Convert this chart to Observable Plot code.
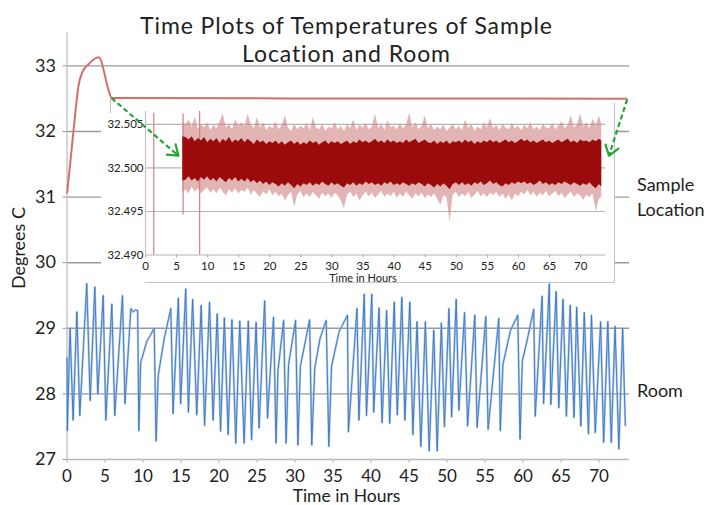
<!DOCTYPE html>
<html><head><meta charset="utf-8">
<script src="https://cdn.jsdelivr.net/npm/d3@7"></script>
<script src="https://cdn.jsdelivr.net/npm/@observablehq/plot@0.6"></script>
<style>
body{margin:0;background:#fff;}
#wrap{position:relative;width:715px;height:505px;background:#fff;overflow:hidden;font-family:Lato,"Open Sans",sans-serif;color:#222;}
.abs{position:absolute;}
.lbl{position:absolute;font-size:18px;line-height:25px;white-space:nowrap;}
</style></head>
<body>
<div id="wrap">
  <div id="main" class="abs" style="left:0;top:0"></div>
  <div class="abs" style="left:101px;top:103px;width:514px;height:180px;background:#fff;border-right:1px solid #c4c4c4;box-sizing:border-box"></div>
  <div class="abs" style="left:145px;top:282px;width:470px;height:0;border-top:1px solid #c4c4c4"></div>
  <div class="abs" style="left:110px;top:99px;width:0;height:14px;border-left:1px solid #bdbdbd"></div>
  <div id="inset" class="abs" style="left:101px;top:103px"></div>
  <div id="over" class="abs" style="left:0;top:0"></div>
  <div class="abs" style="left:0;top:12.3px;width:693px;text-align:center;font-size:23px;letter-spacing:0.9px;line-height:27.7px">Time Plots of Temperatures of Sample<br>Location and Room</div>
  <div class="abs" style="left:0;top:487px;width:693px;text-align:center;font-size:17.5px;line-height:17px">Time in Hours</div>
  <div class="abs" style="left:18px;top:248px;transform:translate(-50%,-50%) rotate(-90deg);font-size:18px;white-space:nowrap">Degrees C</div>
  <div class="lbl" style="left:637px;top:172px">Sample<br>Location</div>
  <div class="lbl" style="left:637px;top:378px">Room</div>
  <div class="abs" style="left:0;top:272px;width:726px;text-align:center;font-size:11px;line-height:11px">Time in Hours</div>
</div>
<script>
// ---- Main chart data ----
const mainYTicks = [27, 28, 29, 30, 31, 32, 33];
const mainXTicks = [0, 5, 10, 15, 20, 25, 30, 35, 40, 45, 50, 55, 60, 65, 70];

// Sample location temperature (red)
const sampleHours = [0.03, 0.8, 1.55, 2.0, 2.87, 4.18, 5.5, 5.86, 73.6];
const sampleTemps = [31.07, 31.95, 32.72, 32.9, 33.03, 33.13, 32.62, 32.51, 32.5];

// Room temperature (blue) – peaks, troughs and knees
const roomHours = [0.0, 0.05, 0.4, 0.8, 1.3, 1.68, 2.6, 3.05, 3.66, 4.05, 4.76, 5.11, 5.9, 6.28, 7.3, 7.63,
  8.4, 8.7, 9.0, 9.3, 9.45, 9.7, 10.5, 11.47, 11.72, 12.0, 12.8, 13.66, 13.95, 14.65, 14.95, 15.62, 15.97,
  16.53, 17.07, 17.65, 18.1, 18.75, 19.22, 19.76, 20.2, 20.7, 21.2, 21.7, 22.2, 22.73, 23.3, 23.85, 24.28,
  24.88, 25.27, 26.0, 26.38, 27.17, 27.5, 27.75, 28.5, 28.82, 29.15, 30.07, 30.38, 30.7, 31.92, 32.2, 32.6,
  33.3, 34.1, 34.45, 34.8, 35.8, 36.9, 37.02, 38.15, 38.4, 39.1, 39.4, 40.1, 40.35, 41.05, 41.45, 42.05,
  42.45, 43.05, 43.45, 44.05, 44.45, 45.1, 45.5, 46.05, 46.55, 47.15, 47.65, 48.25, 48.7, 49.25, 49.65,
  50.25, 50.6, 51.2, 51.55, 52.3, 52.7, 53.65, 53.95, 55.1, 55.4, 56.8, 57.0, 57.35, 58.35, 59.3, 59.6,
  59.9, 60.5, 61.4, 61.6, 62.5, 62.7, 63.45, 63.65, 64.35, 64.7, 65.25, 65.7, 66.2, 66.7, 67.05, 67.6,
  68.05, 68.6, 69.0, 69.5, 70.2, 70.6, 71.15, 71.6, 72.1, 72.6, 73.1, 73.45];
const roomTemps = [28.55, 27.44, 29.0, 27.6, 29.25, 27.67, 29.68, 27.9, 29.63, 28.0, 29.5, 27.6, 29.37, 27.67, 29.5, 27.85,
  29.3, 29.25, 29.28, 29.27, 27.44, 28.48, 28.8, 29.0, 27.28, 28.28, 28.85, 29.3, 27.7, 29.46, 27.85, 29.6, 27.72,
  29.44, 27.68, 29.35, 27.52, 29.4, 27.6, 29.22, 27.43, 29.16, 27.38, 29.13, 27.25, 29.11, 27.25, 29.11, 27.3,
  29.09, 27.48, 29.42, 27.63, 29.17, 27.25, 28.35, 29.12, 27.25, 28.45, 29.12, 27.22, 28.42, 29.13, 27.22, 28.4,
  28.85, 29.12, 27.2, 28.42, 28.95, 29.2, 27.42, 29.3, 27.6, 29.52, 27.67, 29.52, 27.72, 29.31, 27.56, 29.27,
  27.55, 29.4, 27.68, 29.47, 27.6, 29.4, 27.38, 29.1, 27.2, 29.1, 27.13, 28.97, 27.13, 29.08, 27.5,
  29.3, 27.65, 29.44, 27.75, 29.24, 27.51, 29.2, 27.49, 29.18, 27.46, 29.15, 27.44, 28.45, 28.97, 29.2, 27.31,
  28.5, 28.8, 29.29, 27.66, 29.49, 27.85, 29.68, 27.84, 29.56, 27.79, 29.44, 27.66, 29.35, 27.64, 29.32, 27.51,
  29.24, 27.39, 29.2, 27.41, 29.1, 27.26, 29.1, 27.26, 29.03, 27.16, 29.0, 27.52];

// Green dashed arrows (from the red line into the inset)
const arrowFromHour = [5.86, 73.7];
const arrowFromTemp = [32.51, 32.49];
const arrowToHour = [14.67, 71.3];
const arrowToTemp = [31.63, 31.63];

// ---- Inset data ----
const insetYTicks = [32.490, 32.495, 32.500, 32.505];
const insetXTicks = [0, 5, 10, 15, 20, 25, 30, 35, 40, 45, 50, 55, 60, 65, 70];
const glitchHours = [1.33, 6.05, 8.7];
const glitchLo = [32.4900, 32.4946, 32.4900];
const glitchHi = [32.5063, 32.5062, 32.5065];

const noiseHours = [6.0, 6.5, 7.0, 7.5, 8.0, 8.5, 9.0, 9.5, 10.0, 10.5, 11.0, 11.5, 12.0, 12.5, 13.0, 13.5, 14.0, 14.5, 15.0, 15.5,
  16.0, 16.5, 17.0, 17.5, 18.0, 18.5, 19.0, 19.5, 20.0, 20.5, 21.0, 21.5, 22.0, 22.5, 23.0, 23.5, 24.0, 24.5, 25.0, 25.5,
  26.0, 26.5, 27.0, 27.5, 28.0, 28.5, 29.0, 29.5, 30.0, 30.5, 31.0, 31.5, 32.0, 32.5, 33.0, 33.5, 34.0, 34.5, 35.0, 35.5,
  36.0, 36.5, 37.0, 37.5, 38.0, 38.5, 39.0, 39.5, 40.0, 40.5, 41.0, 41.5, 42.0, 42.5, 43.0, 43.5, 44.0, 44.5, 45.0, 45.5,
  46.0, 46.5, 47.0, 47.5, 48.0, 48.5, 49.0, 49.5, 50.0, 50.5, 51.0, 51.5, 52.0, 52.5, 53.0, 53.5, 54.0, 54.5, 55.0, 55.5,
  56.0, 56.5, 57.0, 57.5, 58.0, 58.5, 59.0, 59.5, 60.0, 60.5, 61.0, 61.5, 62.0, 62.5, 63.0, 63.5, 64.0, 64.5, 65.0, 65.5,
  66.0, 66.5, 67.0, 67.5, 68.0, 68.5, 69.0, 69.5, 70.0, 70.5, 71.0, 71.5, 72.0, 72.5, 73.0, 73.4];
const spikeHi = [32.5052, 32.5050, 32.5055, 32.5047, 32.5058, 32.5044, 32.5050, 32.5046, 32.5052, 32.5043,
  32.5049, 32.5045, 32.5053, 32.5062, 32.5046, 32.5050, 32.5044, 32.5055, 32.5048, 32.5052,
  32.5047, 32.5062, 32.5050, 32.5045, 32.5058, 32.5046, 32.5052, 32.5043, 32.5048, 32.5045,
  32.5053, 32.5044, 32.5049, 32.5060, 32.5046, 32.5042, 32.5050, 32.5044, 32.5048, 32.5045,
  32.5051, 32.5043, 32.5058, 32.5046, 32.5044, 32.5050, 32.5042, 32.5047, 32.5045, 32.5052,
  32.5044, 32.5048, 32.5042, 32.5050, 32.5045, 32.5055, 32.5043, 32.5049, 32.5046, 32.5051,
  32.5044, 32.5047, 32.5062, 32.5045, 32.5050, 32.5043, 32.5054, 32.5046, 32.5048, 32.5044,
  32.5051, 32.5045, 32.5049, 32.5063, 32.5046, 32.5052, 32.5044, 32.5048, 32.5060, 32.5045,
  32.5050, 32.5043, 32.5047, 32.5044, 32.5049, 32.5042, 32.5046, 32.5050, 32.5044, 32.5048,
  32.5043, 32.5055, 32.5045, 32.5050, 32.5042, 32.5047, 32.5044, 32.5052, 32.5046, 32.5057,
  32.5045, 32.5049, 32.5043, 32.5050, 32.5046, 32.5044, 32.5051, 32.5045, 32.5048, 32.5043,
  32.5049, 32.5045, 32.5052, 32.5044, 32.5047, 32.5043, 32.5050, 32.5046, 32.5045, 32.5051,
  32.5044, 32.5048, 32.5053, 32.5045, 32.5049, 32.5060, 32.5046, 32.5050, 32.5062, 32.5047,
  32.5052, 32.5045, 32.5056, 32.5048, 32.5060, 32.5050];
const spikeLo = [32.4972, 32.4975, 32.4970, 32.4978, 32.4972, 32.4976, 32.4970, 32.4974, 32.4977, 32.4971,
  32.4975, 32.4970, 32.4977, 32.4972, 32.4968, 32.4975, 32.4971, 32.4976, 32.4970, 32.4974,
  32.4972, 32.4977, 32.4969, 32.4974, 32.4970, 32.4966, 32.4973, 32.4969, 32.4975, 32.4968,
  32.4972, 32.4967, 32.4970, 32.4962, 32.4968, 32.4972, 32.4955, 32.4969, 32.4973, 32.4966,
  32.4970, 32.4966, 32.4972, 32.4968, 32.4964, 32.4971, 32.4967, 32.4970, 32.4965, 32.4971,
  32.4968, 32.4962, 32.4953, 32.4969, 32.4972, 32.4966, 32.4970, 32.4962, 32.4968, 32.4972,
  32.4967, 32.4971, 32.4965, 32.4969, 32.4973, 32.4966, 32.4970, 32.4967, 32.4972, 32.4965,
  32.4970, 32.4966, 32.4972, 32.4968, 32.4964, 32.4970, 32.4967, 32.4971, 32.4965, 32.4969,
  32.4966, 32.4970, 32.4964, 32.4957, 32.4968, 32.4966, 32.4938, 32.4969, 32.4972, 32.4966,
  32.4970, 32.4967, 32.4972, 32.4965, 32.4969, 32.4973, 32.4967, 32.4970, 32.4966, 32.4971,
  32.4968, 32.4972, 32.4966, 32.4970, 32.4964, 32.4969, 32.4962, 32.4970, 32.4967, 32.4972,
  32.4969, 32.4974, 32.4968, 32.4972, 32.4966, 32.4971, 32.4968, 32.4973, 32.4967, 32.4970,
  32.4973, 32.4967, 32.4971, 32.4965, 32.4969, 32.4972, 32.4966, 32.4970, 32.4968, 32.4963,
  32.4969, 32.4966, 32.4970, 32.4950, 32.4964, 32.4966];
const coreHi = [32.5036, 32.5035, 32.5032, 32.5036, 32.5030, 32.5034, 32.5031, 32.5035, 32.5029, 32.5033,
  32.5030, 32.5034, 32.5028, 32.5033, 32.5030, 32.5035, 32.5029, 32.5032, 32.5030, 32.5034,
  32.5029, 32.5033, 32.5030, 32.5027, 32.5032, 32.5029, 32.5031, 32.5027, 32.5030, 32.5028,
  32.5031, 32.5027, 32.5030, 32.5026, 32.5029, 32.5031, 32.5027, 32.5030, 32.5026, 32.5029,
  32.5027, 32.5031, 32.5028, 32.5030, 32.5026, 32.5029, 32.5031, 32.5027, 32.5030, 32.5028,
  32.5030, 32.5027, 32.5029, 32.5031, 32.5027, 32.5030, 32.5028, 32.5032, 32.5029, 32.5031,
  32.5028, 32.5030, 32.5033, 32.5029, 32.5031, 32.5028, 32.5032, 32.5029, 32.5031, 32.5028,
  32.5030, 32.5028, 32.5032, 32.5029, 32.5031, 32.5033, 32.5028, 32.5030, 32.5032, 32.5029,
  32.5028, 32.5031, 32.5027, 32.5030, 32.5028, 32.5031, 32.5027, 32.5030, 32.5029, 32.5031,
  32.5028, 32.5032, 32.5029, 32.5031, 32.5027, 32.5030, 32.5028, 32.5031, 32.5029, 32.5032,
  32.5029, 32.5031, 32.5028, 32.5030, 32.5032, 32.5029, 32.5031, 32.5028, 32.5030, 32.5033,
  32.5030, 32.5032, 32.5029, 32.5031, 32.5028, 32.5030, 32.5032, 32.5029, 32.5031, 32.5028,
  32.5030, 32.5032, 32.5029, 32.5031, 32.5033, 32.5029, 32.5031, 32.5028, 32.5032, 32.5030,
  32.5031, 32.5029, 32.5032, 32.5030, 32.5033, 32.5031];
const coreLo = [32.4985, 32.4986, 32.4990, 32.4985, 32.4988, 32.4984, 32.4989, 32.4986, 32.4990, 32.4985,
  32.4988, 32.4984, 32.4989, 32.4986, 32.4983, 32.4988, 32.4985, 32.4989, 32.4984, 32.4987,
  32.4984, 32.4988, 32.4983, 32.4986, 32.4982, 32.4985, 32.4981, 32.4984, 32.4980, 32.4983,
  32.4981, 32.4978, 32.4982, 32.4979, 32.4983, 32.4980, 32.4976, 32.4981, 32.4978, 32.4982,
  32.4980, 32.4983, 32.4979, 32.4982, 32.4980, 32.4984, 32.4981, 32.4979, 32.4983, 32.4980,
  32.4982, 32.4979, 32.4977, 32.4982, 32.4980, 32.4983, 32.4979, 32.4982, 32.4980, 32.4984,
  32.4981, 32.4983, 32.4980, 32.4982, 32.4979, 32.4983, 32.4981, 32.4984, 32.4980, 32.4982,
  32.4980, 32.4983, 32.4981, 32.4979, 32.4982, 32.4980, 32.4983, 32.4981, 32.4978, 32.4982,
  32.4980, 32.4977, 32.4981, 32.4978, 32.4982, 32.4979, 32.4975, 32.4981, 32.4983, 32.4980,
  32.4983, 32.4980, 32.4982, 32.4979, 32.4983, 32.4981, 32.4984, 32.4980, 32.4982, 32.4985,
  32.4981, 32.4983, 32.4980, 32.4978, 32.4982, 32.4980, 32.4983, 32.4981, 32.4984, 32.4982,
  32.4984, 32.4981, 32.4983, 32.4980, 32.4982, 32.4985, 32.4981, 32.4983, 32.4980, 32.4982,
  32.4980, 32.4983, 32.4981, 32.4984, 32.4982, 32.4980, 32.4983, 32.4981, 32.4979, 32.4982,
  32.4980, 32.4983, 32.4979, 32.4976, 32.4981, 32.4978];

// ---- build tables ----
const sample = sampleHours.map((h, i) => ({h, t: sampleTemps[i]}));
const room = roomHours.map((h, i) => ({h, t: roomTemps[i]}));
const noise = noiseHours.map((h, i) => ({h, hi: spikeHi[i], lo: spikeLo[i], chi: coreHi[i], clo: coreLo[i]}));
const glitches = glitchHours.map((h, i) => ({h, lo: glitchLo[i], hi: glitchHi[i]}));
const arrows = arrowFromHour.map((h, i) => ({x1: h, y1: arrowFromTemp[i], x2: arrowToHour[i], y2: arrowToTemp[i]}));

const FONT = "Lato, 'Open Sans', sans-serif";
const gridGray = "#9a9a9a";

const mainOpts = {
  width: 715, height: 505,
  marginLeft: 66.5, marginRight: 86, marginTop: 32.6, marginBottom: 46,
  x: {domain: [0, 74]}, y: {domain: [27, 33.5]}
};

const mainPlot = Plot.plot({
  ...mainOpts,
  style: {fontFamily: FONT, fontSize: "18px", color: "#222", background: "transparent", overflow: "visible"},
  marks: [
    Plot.gridY(mainYTicks.filter(d => d > 27), {stroke: gridGray, strokeOpacity: 1, strokeWidth: 1.4}),
    Plot.ruleX([0], {y1: 27, y2: 33.5, stroke: "#c4c4c4", strokeWidth: 1.4}),
    Plot.ruleY([27], {stroke: "#b8b8b8", strokeWidth: 1.4}),
    Plot.axisY({ticks: mainYTicks, tickSize: 4, tickPadding: 7, label: null, stroke: gridGray, fontSize: 18, tickFormat: d => String(d)}),
    Plot.axisX({ticks: mainXTicks, tickSize: 4, tickPadding: 6, label: null, stroke: "#b8b8b8", fontSize: 17, tickFormat: d => String(d)}),
    Plot.line(room, {x: "h", y: "t", stroke: "#9dbde3", strokeWidth: 2.2, strokeOpacity: 0.8}),
    Plot.line(room, {x: "h", y: "t", stroke: "#3a76c2", strokeWidth: 1, strokeOpacity: 0.9}),
    Plot.line(sample, {x: "h", y: "t", stroke: "#d56d6d", strokeWidth: 2, curve: "monotone-x"})
  ]
});
document.getElementById("main").appendChild(mainPlot);

const insetPlot = Plot.plot({
  width: 514, height: 180,
  marginLeft: 44, marginRight: 10, marginTop: 7.9, marginBottom: 28.5,
  x: {domain: [0, 74]}, y: {domain: [32.490, 32.5065]},
  style: {fontFamily: FONT, fontSize: "11.5px", color: "#222", background: "transparent", overflow: "visible"},
  marks: [
    Plot.gridY(insetYTicks, {stroke: "#b4b4b4", strokeOpacity: 1, strokeWidth: 1.2}),
    Plot.ruleX([0], {y1: 32.490, y2: 32.5065, stroke: "#c4c4c4", strokeWidth: 1.2}),
    Plot.ruleX(glitches, {x: "h", y1: "lo", y2: "hi", stroke: "#d48a8a", strokeWidth: 1.3}),
    Plot.areaY(noise, {x: "h", y1: "lo", y2: "hi", fill: "#cf8282", fillOpacity: 0.6}),
    Plot.areaY(noise, {x: "h", y1: "clo", y2: "chi", fill: "#9b0b0b"}),
    Plot.axisY({ticks: insetYTicks, tickSize: 0, tickPadding: 2, label: null, fontSize: 11.5, tickFormat: d3.format(".3f")}),
    Plot.axisX({ticks: insetXTicks, tickSize: 3, tickPadding: 4.3, label: null, stroke: "#aaa", fontSize: 11.5, tickFormat: d => String(d)})
  ]
});
document.getElementById("inset").appendChild(insetPlot);

// arrow heads: solid heads drawn with a long inset so only the tip remains
const sx = Plot.scale({x: {domain: mainOpts.x.domain, range: [mainOpts.marginLeft, mainOpts.width - mainOpts.marginRight]}});
const sy = Plot.scale({y: {domain: mainOpts.y.domain, range: [mainOpts.height - mainOpts.marginBottom, mainOpts.marginTop]}});
const headMarks = arrows.map(a => {
  const len = Math.hypot(sx.apply(a.x2) - sx.apply(a.x1), sy.apply(a.y2) - sy.apply(a.y1));
  return Plot.arrow([a], {x1: "x1", y1: "y1", x2: "x2", y2: "y2", stroke: "#27a33a", strokeWidth: 2.2, headLength: 8, headAngle: 70, insetStart: len - 3});
});

const overPlot = Plot.plot({
  ...mainOpts,
  x: {...mainOpts.x, axis: null}, y: {...mainOpts.y, axis: null},
  style: {background: "transparent", overflow: "visible"},
  marks: [
    Plot.link(arrows, {x1: "x1", y1: "y1", x2: "x2", y2: "y2", stroke: "#27a33a", strokeWidth: 2.2, strokeDasharray: "5,3"}),
    ...headMarks
  ]
});
document.getElementById("over").appendChild(overPlot);
</script>
</body></html>
